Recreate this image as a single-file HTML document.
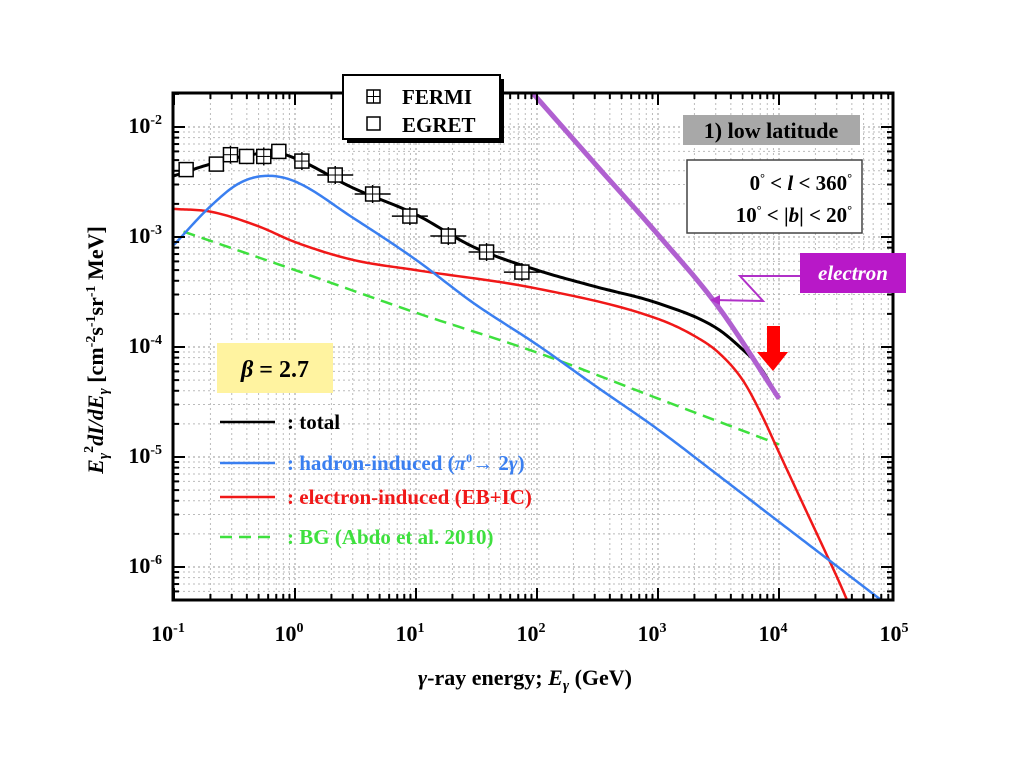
<!DOCTYPE html>
<html><head><meta charset="utf-8"><style>
body{margin:0;background:#fff;}
svg text{font-family:"Liberation Serif",serif;font-weight:bold;}
</style></head><body>
<svg id="chart" width="1024" height="768" viewBox="0 0 1024 768">
<g id="grid"></g>
<g id="curves"></g>
<g id="points"></g>
<rect x="173" y="93" width="720" height="507" fill="none" stroke="#000" stroke-width="3"/>
<g id="ticks"></g>
<g id="labels"></g>

<text transform="translate(103,350) rotate(-90)" text-anchor="middle" font-size="22"><tspan font-style="italic">E</tspan><tspan font-style="italic" font-size="15" dy="5">γ</tspan><tspan font-size="14" dy="-15">2</tspan><tspan font-style="italic" dy="10">dI/dE</tspan><tspan font-style="italic" font-size="15" dy="5">γ</tspan><tspan dy="-5"> [cm</tspan><tspan font-size="14" dy="-8">-2</tspan><tspan dy="8">s</tspan><tspan font-size="14" dy="-8">-1</tspan><tspan dy="8">sr</tspan><tspan font-size="14" dy="-8">-1</tspan><tspan dy="8"> MeV]</tspan></text>
<text x="525" y="685" text-anchor="middle" font-size="22"><tspan font-style="italic">γ</tspan>-ray energy;   <tspan font-style="italic">E</tspan><tspan font-style="italic" font-size="15" dy="5">γ</tspan><tspan dy="-5"> (GeV)</tspan></text>

<g>
<rect x="347" y="79" width="157" height="64" fill="#000"/>
<rect x="343" y="75" width="157" height="64" fill="#fff" stroke="#000" stroke-width="2"/>
<rect x="367" y="90" width="13" height="13" fill="none" stroke="#000" stroke-width="1.5"/><line x1="373.5" y1="90" x2="373.5" y2="103" stroke="#000"/><line x1="367" y1="96.5" x2="380" y2="96.5" stroke="#000"/>
<text x="402" y="104" font-size="21">FERMI</text>
<rect x="367" y="117" width="13" height="13" fill="none" stroke="#000" stroke-width="1.5"/>
<text x="402" y="132" font-size="21">EGRET</text>
</g>
<g>
<rect x="683" y="115" width="177" height="30" fill="#a8a8a8"/>
<text x="771" y="138" text-anchor="middle" font-size="22">1) low  latitude</text>
<rect x="687" y="160" width="175" height="73" fill="#fff" stroke="#444" stroke-width="1.5"/>
<text x="852" y="190" text-anchor="end" font-size="21">0<tspan font-size="12" dy="-8">°</tspan><tspan dy="8"> &lt; </tspan><tspan font-style="italic">l</tspan> &lt; 360<tspan font-size="12" dy="-8">°</tspan></text>
<text x="852" y="222" text-anchor="end" font-size="21">10<tspan font-size="12" dy="-8">°</tspan><tspan dy="8"> &lt; |</tspan><tspan font-style="italic">b</tspan>| &lt; 20<tspan font-size="12" dy="-8">°</tspan></text>
</g>
<g>
<polyline points="800,276 740,276 763,301 713,300" fill="none" stroke="#b030c8" stroke-width="2"/>
<polygon points="710,300 720,295 720,305" fill="#b030c8"/>
<rect x="800" y="253" width="106" height="40" fill="#b818c8"/>
<text x="853" y="280" text-anchor="middle" font-size="21" font-style="italic" fill="#fff">electron</text>
</g>
<polygon points="767,326 780,326 780,352 788,352 773,371 757,352 767,352" fill="#f00"/>
<g>
<rect x="217" y="343" width="116" height="50" fill="#fff3a0"/>
<text x="275" y="377" text-anchor="middle" font-size="24"><tspan font-style="italic">β</tspan> = 2.7</text>
</g>
<g>
<line x1="220" y1="422" x2="275" y2="422" stroke="#000" stroke-width="2.5"/>
<text x="287" y="429" font-size="21">: total</text>
<line x1="220" y1="463" x2="275" y2="463" stroke="#3a7ff0" stroke-width="2.5"/>
<text x="287" y="470" font-size="21" fill="#3a7ff0">: hadron-induced (<tspan font-style="italic">π</tspan><tspan font-size="12" dy="-8">0</tspan><tspan dy="8">→ 2</tspan><tspan font-style="italic">γ</tspan>)</text>
<line x1="220" y1="497" x2="275" y2="497" stroke="#f01818" stroke-width="2.5"/>
<text x="287" y="504" font-size="21" fill="#f01818">: electron-induced (EB+IC)</text>
<line x1="220" y1="537" x2="275" y2="537" stroke="#3ee03e" stroke-width="2.5" stroke-dasharray="12,7"/>
<text x="287" y="544" font-size="21" fill="#3ee03e">: BG (Abdo et al. 2010)</text>
</g>
</svg>
<script>
// data (E in GeV, flux)
const totalE=[0.1,0.2,0.4,0.65,1,3,10,30,100,300,1000,3000,5000,7000,10000];
const totalF=[3.6e-3,4.6e-3,5.5e-3,5.9e-3,5.2e-3,2.8e-3,1.6e-3,8.1e-4,5.0e-4,3.55e-4,2.5e-4,1.5e-4,9.5e-5,6.5e-5,3.4e-5];
const hadE=[0.1,0.2,0.35,0.6,1,3,10,30,100,300,1000,3000,10000,30000,70000];
const hadF=[8.5e-4,1.9e-3,3.1e-3,3.6e-3,3.2e-3,1.5e-3,6.2e-4,2.5e-4,1.05e-4,4.47e-5,1.78e-5,7.1e-6,2.57e-6,1.02e-6,5.0e-7];
const eleE=[0.1,0.2,0.5,1,3,10,100,1000,2000,3162,5012,7079,10000,15850,25120,31620,39810];
const eleF=[1.8e-3,1.7e-3,1.25e-3,9e-4,6.2e-4,5e-4,3.4e-4,1.8e-4,1.26e-4,8.9e-5,5.0e-5,2.5e-5,1.1e-5,3.7e-6,1.25e-6,7.2e-7,4.0e-7];
const bgE=[0.12,1,10,100,1000,10000];
const bgF=[1.12e-3,5.0e-4,2.05e-4,8.9e-5,3.4e-5,1.3e-5];
const elecE=[85,316,1000,3162,10000];
const elecF=[2.25e-2,4.37e-3,1.05e-3,2.3e-4,3.4e-5];
const egretE=[0.126,0.224,0.398,0.735];
const egretF=[4.1e-3,4.6e-3,5.4e-3,6.0e-3];
const fermiE=[0.293,0.552,1.14,2.15,4.38,8.9,18.5,38.3,75];
const fermiF=[5.6e-3,5.4e-3,4.9e-3,3.66e-3,2.46e-3,1.55e-3,1.02e-3,7.3e-4,4.8e-4];
const xTickLabels=["-1","0","1","2","3","4","5"];
const yTickLabels=["-2","-3","-4","-5","-6"];

const NS="http://www.w3.org/2000/svg";
const X=e=>174+(Math.log10(e)+1)*121;
const Y=f=>127-(Math.log10(f)+2)*110;
function mk(tag,attrs,parent){const el=document.createElementNS(NS,tag);for(const k in attrs)el.setAttribute(k,attrs[k]);document.getElementById(parent).appendChild(el);return el;}
for(let d=-1;d<5;d++)for(let m=1;m<10;m++){const x=X(m*Math.pow(10,d));if(x<=173||x>=893)continue;
 const l=mk('line',{x1:x,y1:93,x2:x,y2:600,stroke:m==1?'#999':'#bbb','stroke-width':1,'stroke-dasharray':'2,3'},'grid');
 
 
 const t=mk('line',{x1:x,y1:600,x2:x,y2:m==1?588:594,stroke:'#000','stroke-width':2},'ticks');
 
 
 const t2=mk('line',{x1:x,y1:93,x2:x,y2:m==1?105:99,stroke:'#000','stroke-width':2},'ticks');
 
 }
for(let d=-7;d<-1;d++)for(let m=1;m<10;m++){const y=Y(m*Math.pow(10,d));if(y<=93||y>=600)continue;
 const l=mk('line',{x1:173,y1:y,x2:893,y2:y,stroke:m==1?'#999':'#bbb','stroke-width':1,'stroke-dasharray':'2,3'},'grid');
 
 
 const t=mk('line',{x1:173,y1:y,x2:m==1?185:179,y2:y,stroke:'#000','stroke-width':2},'ticks');
 
 
 const t2=mk('line',{x1:893,y1:y,x2:m==1?881:887,y2:y,stroke:'#000','stroke-width':2},'ticks');
 
 }
xTickLabels.forEach((s,i)=>{const t=mk('text',{x:X(Math.pow(10,+s))-6,y:641,'text-anchor':'middle','font-size':22},'labels');
 
 
 t.innerHTML='10<tspan font-size="14" dy="-9">'+s+'</tspan>';});
yTickLabels.forEach(s=>{const t=mk('text',{x:162,y:Y(Math.pow(10,+s))+6,'text-anchor':'end','font-size':22},'labels');
 
 
 t.innerHTML='10<tspan font-size="14" dy="-9">'+s+'</tspan>';});
// monotone cubic (Fritsch-Carlson) in log-log space, rendered as dense polyline
function pathD(E,F){
 const xs=E.map(e=>Math.log10(e)),ys=F.map(f=>Math.log10(f)),n=xs.length;
 const dl=[],m=[];
 for(let i=0;i<n-1;i++)dl.push((ys[i+1]-ys[i])/(xs[i+1]-xs[i]));
 m[0]=dl[0];m[n-1]=dl[n-2];
 for(let i=1;i<n-1;i++){m[i]=(dl[i-1]*dl[i]<=0)?0:(dl[i-1]+dl[i])/2;}
 for(let i=0;i<n-1;i++){if(dl[i]===0){m[i]=m[i+1]=0;continue;}
  const a=m[i]/dl[i],b=m[i+1]/dl[i],s=a*a+b*b;if(s>9){const t=3/Math.sqrt(s);m[i]=t*a*dl[i];m[i+1]=t*b*dl[i];}}
 let d='';
 for(let i=0;i<n-1;i++){const h=xs[i+1]-xs[i];
  for(let k=0;k<=20;k++){if(i>0&&k===0)continue;const t=k/20,t2=t*t,t3=t2*t;
   const y=(2*t3-3*t2+1)*ys[i]+(t3-2*t2+t)*h*m[i]+(-2*t3+3*t2)*ys[i+1]+(t3-t2)*h*m[i+1];
   const x=xs[i]+t*h;
   d+=(d?' L':'M')+X(Math.pow(10,x)).toFixed(2)+','+Y(Math.pow(10,y)).toFixed(2);}}
 return d;}
function curve(E,F,col,w,name,dash){const p=mk('path',{d:pathD(E,F),fill:'none',stroke:col,'stroke-width':w,'stroke-linejoin':'round','clip-path':'url(#clip)'},'curves');
 if(dash)p.setAttribute('stroke-dasharray',dash);
 
 }
const cp=mk('clipPath',{id:'clip'},'curves');const cr=document.createElementNS(NS,'rect');cr.setAttribute('x',173);cr.setAttribute('y',93);cr.setAttribute('width',720);cr.setAttribute('height',507);cp.appendChild(cr);
curve(bgE,bgF,'#3ee03e',2.5,'bg-curve','12,7');
curve(eleE,eleF,'#f01818',2.5,'electron-induced-curve');
curve(hadE,hadF,'#3a7ff0',2.5,'hadron-induced-curve');
curve(totalE,totalF,'#000',3,'total-curve');
curve(elecE,elecF,'#b060d0',5,'electron-spectrum-curve');
egretE.forEach((e,i)=>{const r=mk('rect',{x:X(e)-7,y:Y(egretF[i])-7,width:14,height:14,fill:'#fff',stroke:'#000','stroke-width':1.5},'points');
 
 });
fermiE.forEach((e,i)=>{const x=X(e),y=Y(fermiF[i]);
 const g=mk('g',{},'points');
 
 
 const eb=x>320?18:0;
 g.innerHTML='<line x1="'+(x-eb)+'" y1="'+y+'" x2="'+(x+eb)+'" y2="'+y+'" stroke="#000" stroke-width="1.5"/><line x1="'+x+'" y1="'+(y-9)+'" x2="'+x+'" y2="'+(y+9)+'" stroke="#000" stroke-width="1.5"/><rect x="'+(x-7)+'" y="'+(y-7)+'" width="14" height="14" fill="#fff" stroke="#000" stroke-width="1.5"/><line x1="'+x+'" y1="'+(y-7)+'" x2="'+x+'" y2="'+(y+7)+'" stroke="#000"/><line x1="'+(x-7)+'" y1="'+y+'" x2="'+(x+7)+'" y2="'+y+'" stroke="#000"/>';});
</script>
</body></html>
